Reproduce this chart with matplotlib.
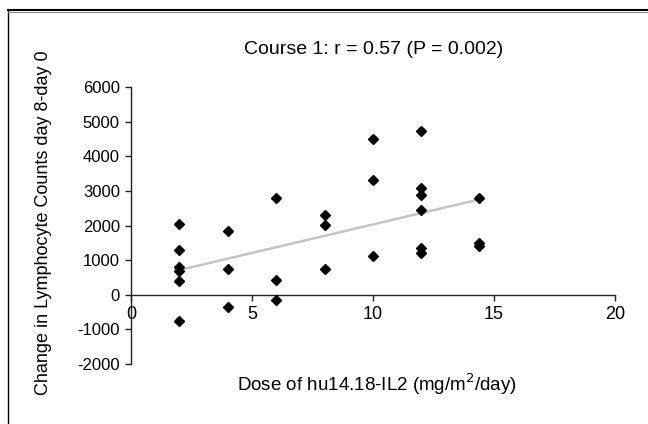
import numpy as np
import matplotlib
matplotlib.use("Agg")
import matplotlib.pyplot as plt
from matplotlib.lines import Line2D

plt.rcParams['font.family'] = ['Liberation Sans', 'DejaVu Sans']
plt.rcParams['axes.unicode_minus'] = False

dose = [2, 2, 2, 2, 2, 2,
        4, 4, 4,
        6, 6, 6,
        8, 8, 8,
        10, 10, 10,
        12, 12, 12, 12, 12, 12,
        14.4, 14.4, 14.4]
change = [2050, 1300, 800, 700, 390, -770,
          1830, 740, -350,
          2790, 430, -140,
          2300, 2010, 740,
          4510, 3310, 1130,
          4730, 3070, 2890, 2450, 1360, 1200,
          2790, 1490, 1410]
title = "Course 1: r = 0.57 (P = 0.002)"
xlabel = "Dose of hu14.18-IL2 (mg/m$^2$/day)"
ylabel = "Change in Lymphocyte Counts day 8-day 0"
xticks = [0, 5, 10, 15, 20]
yticks = list(range(-2000, 6001, 1000))

fig = plt.figure(figsize=(6.48, 4.24), dpi=100)
ax = fig.add_axes([131/648, 1-364/424, (615-131)/648, (364-87)/424])

x = np.array(dose, dtype=float)
y = np.array(change, dtype=float)
slope, intercept = np.polyfit(x, y, 1)
xs = np.array([x.min(), x.max()])
ax.plot(xs, slope*xs + intercept, color='#c4c4c4', lw=1.8, zorder=2)
ax.plot(x, y, linestyle='none', marker='D', ms=5.5, color='black', zorder=3)

ax.set_xlim(0, 20)
ax.set_ylim(-2000, 6000)
ax.set_xticks(xticks)
ax.set_yticks(yticks)
ax.spines['top'].set_visible(False)
ax.spines['right'].set_visible(False)
ax.spines['bottom'].set_position(('data', 0))
for s in ('left', 'bottom'):
    ax.spines[s].set_linewidth(1.0)
    ax.spines[s].set_color('#222222')
ax.tick_params(axis='both', direction='out', length=4, width=1.0, color='#222222')
ax.tick_params(axis='y', labelsize=12, pad=4)
ax.tick_params(axis='x', labelsize=13, pad=4)

fig.text(374/648, 1-50/424, title, ha='center', va='center', fontsize=14)
fig.text(377/648, 1-384/424, xlabel, ha='center', va='center', fontsize=13.5)
fig.text(44/648, 1-223/424, ylabel, ha='center', va='center', rotation=90, fontsize=13)

# frame around the chart area
fig.add_artist(Line2D([8/648, 8/648], [0, 1-10/424], transform=fig.transFigure,
                      color='black', lw=1.0))
fig.add_artist(Line2D([8/648, 1], [1-10/424, 1-10/424], transform=fig.transFigure,
                      color='black', lw=1.5))
fig.add_artist(Line2D([8/648, 1], [1-11.5/424, 1-11.5/424], transform=fig.transFigure,
                      color='#888888', lw=0.8))

fig.savefig('out.png', dpi=100)
